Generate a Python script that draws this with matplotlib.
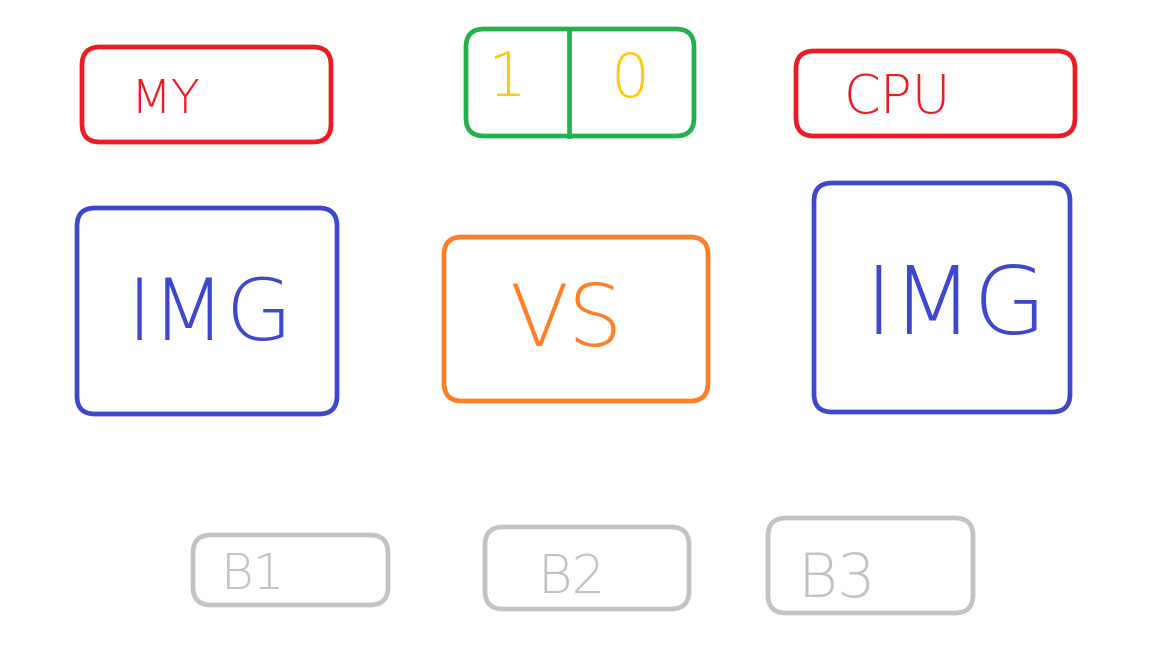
import matplotlib
matplotlib.use("Agg")
import matplotlib.pyplot as plt
from matplotlib.patches import FancyBboxPatch

# content
labels = ["MY", "", "CPU", "IMG", "VS", "IMG", "B1", "B2", "B3"]
split_labels = ["1", "0"]

# box geometry in pixel coords (x0, y0, x1, y1), y from top
boxes = [
    (82, 47, 331, 142),
    (466, 29, 694, 136),
    (796, 51, 1075, 136),
    (77, 208, 337, 414),
    (444, 237, 708, 401),
    (814, 183, 1070, 412),
    (193, 535, 388, 605),
    (485, 527, 689, 609),
    (768, 518, 973, 613),
]
RED, GREEN, BLUE, ORANGE, GRAY, YELLOW = "#ed1c24", "#22b14c", "#3f48cc", "#ff7f27", "#c3c3c3", "#ffc90e"
box_colors = [RED, GREEN, RED, BLUE, ORANGE, BLUE, GRAY, GRAY, GRAY]
text_pos = [(165, 100), None, (897, 98), (210, 316), (566, 322), (956, 308),
            (253, 575), (572, 578), (837, 580)]
text_sizes = [34, None, 38, 62, 62, 68, 36, 38, 44]
text_spacing = [0.3, None, 0.4, 0.0, 0.0, 0.0, 0.1, 0.9, 0.0]
divider_x = 569
split_pos = [(507, 80), (630, 80)]

fig = plt.figure(figsize=(11.52, 6.48), dpi=100)
ax = fig.add_axes([0, 0, 1, 1])
ax.set_xlim(0, 1152)
ax.set_ylim(648, 0)
ax.axis("off")

R = 18
for (x0, y0, x1, y1), c in zip(boxes, box_colors):
    p = FancyBboxPatch((x0 + R, y0 + R), (x1 - x0) - 2 * R, (y1 - y0) - 2 * R,
                       boxstyle=f"round,pad={R},rounding_size={R}",
                       fill=False, edgecolor=c, linewidth=3.4)
    ax.add_patch(p)


def spaced(s, sp):
    if sp <= 0:
        return s
    if sp >= 0.5:
        return "  ".join(s)
    return " ".join(s) if sp >= 0.3 else s


for lab, pos, sz, sp, c in zip(labels, text_pos, text_sizes, text_spacing, box_colors):
    if not lab:
        continue
    ax.text(pos[0], pos[1], lab, color=c, fontsize=sz, ha="center", va="center",
            family="DejaVu Sans", fontweight="ultralight")

# green split box
x0, y0, x1, y1 = boxes[1]
ax.plot([divider_x, divider_x], [y0, y1], color=GREEN, linewidth=3.4)
for lab, pos in zip(split_labels, split_pos):
    ax.text(pos[0], pos[1], lab, color=YELLOW, fontsize=44, ha="center", va="center",
            family="DejaVu Sans", fontweight="ultralight")

fig.savefig("out.png", dpi=100, facecolor="white")
